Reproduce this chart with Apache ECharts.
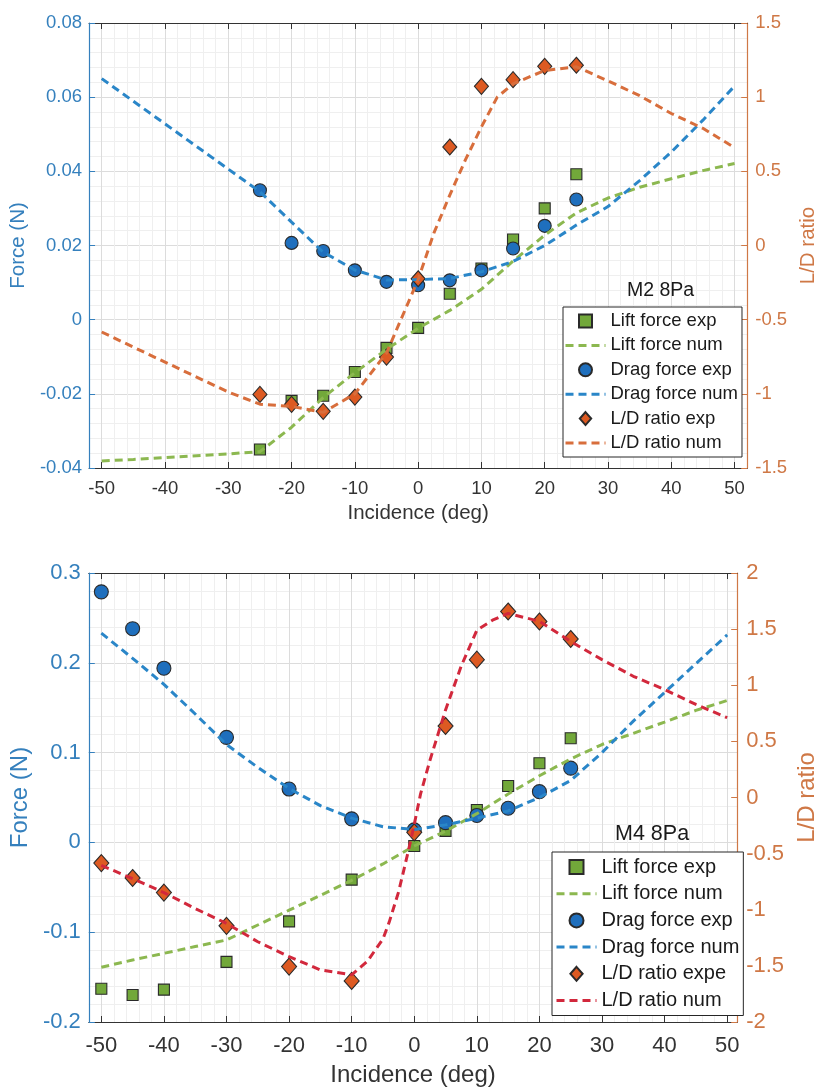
<!DOCTYPE html>
<html>
<head>
<meta charset="utf-8">
<title>Lift, drag and L/D ratio vs incidence</title>
<script src="https://cdn.jsdelivr.net/npm/echarts@6/dist/echarts.min.js"></script>
<style>
  html, body { margin: 0; padding: 0; background: #ffffff; }
  #chartM2 { position: absolute; left: 0; top: 0; width: 827px; height: 540px; }
  #chartM4 { position: absolute; left: 0; top: 540px; width: 827px; height: 552px; }
</style>
</head>
<body>
<div id="chartM2"></div>
<div id="chartM4"></div>
<script>
// ---------- data ----------
const incidenceTicks = [-50, -40, -30, -20, -10, 0, 10, 20, 30, 40, 50];

// M2, 8 Pa
const m2ExpAngle = [-25, -20, -15, -10, -5, 0, 5, 10, 15, 20, 25];
const m2LiftExp  = [-0.0350, -0.0219, -0.0205, -0.0141, -0.0076, -0.0022, 0.0070, 0.0138, 0.0216, 0.0300, 0.0392];
const m2DragExp  = [0.0349, 0.0207, 0.0185, 0.0133, 0.0102, 0.0093, 0.0106, 0.0133, 0.0192, 0.0253, 0.0324];
const m2RatioExp = [-1.004, -1.071, -1.118, -1.022, -0.752, -0.224, 0.664, 1.073, 1.118, 1.208, 1.215];

const m2NumAngle = [-50, -45, -40, -35, -30, -25, -20, -15, -10, -5, 0, 5, 10, 15, 20, 25, 30, 35, 40, 45, 50];
const m2LiftNum  = [-0.0381, -0.0377, -0.0372, -0.0367, -0.0362, -0.0356, -0.0290, -0.0210, -0.0143, -0.0080, -0.0023,
                    0.0025, 0.0082, 0.0158, 0.0228, 0.0288, 0.0328, 0.0357, 0.0380, 0.0402, 0.0421];
const m2DragNum  = [0.0650, 0.0589, 0.0528, 0.0467, 0.0406, 0.0345, 0.0263, 0.0182, 0.0134, 0.0107, 0.0108,
                    0.0111, 0.0129, 0.0157, 0.0200, 0.0255, 0.0305, 0.0375, 0.0452, 0.0538, 0.0630];
const m2RatioAngle = [-50, -45, -40, -35, -30, -25, -20, -15, -10, -5, 0, 2.5, 5, 7.5, 10, 12.5, 15, 20, 25, 30, 35, 40, 45, 50];
const m2RatioNum   = [-0.583, -0.685, -0.786, -0.887, -0.988, -1.070, -1.085, -1.125, -1.000, -0.725, -0.230, 0.085,
                      0.340, 0.580, 0.800, 1.000, 1.090, 1.180, 1.205, 1.110, 1.010, 0.890, 0.790, 0.660];

// M4, 8 Pa
const m4ExpAngle = [-50, -45, -40, -30, -20, -10, 0, 5, 10, 15, 20, 25];
const m4LiftExp  = [-0.163, -0.170, -0.164, -0.133, -0.088, -0.0415, -0.004, 0.0128, 0.036, 0.0628, 0.0882, 0.116];
const m4DragExp  = [0.279, 0.238, 0.194, 0.117, 0.0594, 0.0262, 0.014, 0.022, 0.030, 0.038, 0.0565, 0.0827];
const m4RatioExp = [-0.584, -0.717, -0.847, -1.143, -1.506, -1.634, -0.310, 0.637, 1.228, 1.657, 1.568, 1.412];

const m4NumAngle = [-50, -45, -40, -35, -30, -25, -20, -15, -10, -5, 0, 5, 10, 15, 20, 25, 30, 35, 40, 45, 50];
const m4LiftNum  = [-0.139, -0.131, -0.1235, -0.116, -0.1087, -0.092, -0.0755, -0.059, -0.0422, -0.024, -0.004,
                    0.0125, 0.032, 0.0539, 0.0742, 0.093, 0.109, 0.1215, 0.134, 0.147, 0.158];
const m4DragNum  = [0.233, 0.205, 0.176, 0.143, 0.109, 0.0835, 0.060, 0.041, 0.027, 0.0175, 0.0143,
                    0.0195, 0.027, 0.035, 0.050, 0.069, 0.100, 0.135, 0.167, 0.199, 0.231];
const m4RatioAngle = [-50, -45, -40, -35, -30, -25, -20, -15, -10, -7.5, -5, -4, -2.5, -1, 0, 1, 2.5, 5, 7.5, 10,
                      12.5, 15, 20, 25, 30, 35, 40, 45, 50];
const m4RatioNum   = [-0.605, -0.723, -0.847, -0.989, -1.122, -1.285, -1.418, -1.536, -1.580, -1.460, -1.260, -1.110,
                      -0.840, -0.490, -0.240, 0.030, 0.330, 0.780, 1.170, 1.490, 1.580, 1.640, 1.570, 1.390, 1.228,
                      1.080, 0.962, 0.829, 0.711];

// ---------- styling ----------
const FONT = "'Liberation Sans', Arial, Helvetica, sans-serif";
const LEFT_COLOR = '#3580bd';
const RIGHT_COLOR = '#cf7846';
const AXIS_DARK = '#333333';
const TEXT_DARK = '#1a1a1a';
const GRID_MAJOR = '#dcdcdc';
const GRID_MINOR = '#efefef';
const EDGE = '#2a2a2a';

const C_LIFT_EXP = '#72a83a';
const C_DRAG_EXP = '#1f6fbd';
const C_RATIO_EXP = '#dd5a22';
const C_LIFT_NUM = '#8cb850';
const C_DRAG_NUM = '#2a86c8';
const DASH = [8, 5];

// legend glyphs
const SQUARE_ICON = 'path://M0,0H10V10H0Z';
const DIAMOND_ICON = 'path://M7,0L14,8L7,16L0,8Z';
const NO_MARKER = { color: 'rgba(0,0,0,0)', borderColor: 'rgba(0,0,0,0)', borderWidth: 0, opacity: 0 };

function pairs(xs, ys) { return xs.map((x, i) => [x, ys[i]]); }

function scatter(name, xs, ys, yAxisIndex, symbol, size, color) {
  return {
    name, type: 'scatter', xAxisIndex: 1, yAxisIndex, data: pairs(xs, ys),
    symbol, symbolSize: size,
    itemStyle: { color, borderColor: EDGE, borderWidth: 1.1, opacity: 1 },
    emphasis: { disabled: true }, silent: true
  };
}

function dashed(name, xs, ys, yAxisIndex, color) {
  return {
    name, type: 'line', xAxisIndex: 1, yAxisIndex, data: pairs(xs, ys),
    symbol: 'none', showSymbol: false, smooth: false,
    lineStyle: { color, width: 3, type: DASH },
    itemStyle: { color },
    emphasis: { disabled: true }, silent: true
  };
}

function legendEntries(names) {
  // order: lift exp, lift num, drag exp, drag num, ratio exp, ratio num
  return [
    { name: names[0], icon: SQUARE_ICON },
    { name: names[1], itemStyle: NO_MARKER },
    { name: names[2], icon: 'circle' },
    { name: names[3], itemStyle: NO_MARKER },
    { name: names[4], icon: DIAMOND_ICON },
    { name: names[5], itemStyle: NO_MARKER }
  ];
}

function buildOption(p) {
  const tickLabel = (color) => ({ fontFamily: FONT, fontSize: p.tickFont, color });
  return {
    animation: false,
    backgroundColor: '#ffffff',
    title: {
      text: p.title, left: p.titleLeft, top: p.titleTop, padding: 0,
      textStyle: { fontFamily: FONT, fontSize: p.titleFont, fontWeight: 'normal', color: TEXT_DARK }
    },
    grid: { left: p.grid.left, top: p.grid.top, width: p.grid.width, height: p.grid.height, containLabel: false },
    legend: {
      orient: 'vertical', left: p.legendLeft, top: p.legendTop,
      padding: p.legendPadding, itemWidth: 40, itemHeight: p.legendIcon, itemGap: p.legendGap,
      backgroundColor: '#ffffff', borderColor: '#262626', borderWidth: 1, borderRadius: 0,
      textStyle: { fontFamily: FONT, fontSize: p.legendFont, lineHeight: p.legendLine, color: TEXT_DARK },
      lineStyle: { width: 3 },
      selectedMode: false,
      data: legendEntries(p.legendNames)
    },
    xAxis: [
      { // fine grid every 2 deg, darker every 10 deg
        type: 'value', position: 'bottom', min: -52, max: p.xMax, interval: 2,
        axisLine: { show: false }, axisTick: { show: false }, axisLabel: { show: false },
        splitLine: { show: true, lineStyle: { width: 1, color: [GRID_MINOR, GRID_MAJOR, GRID_MINOR, GRID_MINOR, GRID_MINOR] } }
      },
      { // incidence axis
        type: 'value', position: 'bottom', min: -52, max: p.xMax,
        axisLine: { show: true, onZero: false, lineStyle: { color: AXIS_DARK, width: 1.2 } },
        axisTick: { show: true, inside: true, length: 6, customValues: incidenceTicks, lineStyle: { color: AXIS_DARK } },
        axisLabel: Object.assign({ customValues: incidenceTicks, margin: p.xLabelMargin }, tickLabel(AXIS_DARK)),
        splitLine: { show: false },
        name: 'Incidence (deg)', nameLocation: 'middle', nameGap: p.xNameGap,
        nameTextStyle: { fontFamily: FONT, fontSize: p.nameFont, color: AXIS_DARK }
      },
      { // top frame
        type: 'value', position: 'top', min: -52, max: p.xMax,
        axisLine: { show: true, onZero: false, lineStyle: { color: AXIS_DARK, width: 1.2 } },
        axisTick: { show: true, inside: true, length: 6, customValues: incidenceTicks, lineStyle: { color: AXIS_DARK } },
        axisLabel: { show: false }, splitLine: { show: false }
      }
    ],
    yAxis: [
      { // force
        type: 'value', position: 'left', min: p.yMin, max: p.yMax, interval: p.yStep,
        axisLine: { show: true, onZero: false, lineStyle: { color: LEFT_COLOR, width: 1.2 } },
        axisTick: { show: true, inside: true, length: 6, lineStyle: { color: LEFT_COLOR } },
        axisLabel: Object.assign({ margin: p.yLabelMargin }, tickLabel(LEFT_COLOR)),
        splitLine: { show: false },
        name: 'Force (N)', nameLocation: 'middle', nameRotate: 90, nameGap: p.leftNameGap,
        nameTextStyle: { fontFamily: FONT, fontSize: p.nameFont, color: LEFT_COLOR }
      },
      { // L/D ratio
        type: 'value', position: 'right', min: p.rMin, max: p.rMax, interval: 0.5,
        axisLine: { show: true, onZero: false, lineStyle: { color: RIGHT_COLOR, width: 1.2 } },
        axisTick: { show: true, inside: true, length: 6, lineStyle: { color: RIGHT_COLOR } },
        axisLabel: Object.assign({ margin: p.rLabelMargin }, tickLabel(RIGHT_COLOR)),
        splitLine: { show: false },
        name: 'L/D ratio', nameLocation: 'middle', nameRotate: 90, nameGap: p.rightNameGap,
        nameTextStyle: { fontFamily: FONT, fontSize: p.nameFont, color: RIGHT_COLOR }
      },
      { // fine horizontal grid
        type: 'value', position: 'left', min: p.yMin, max: p.yMax, interval: p.yStep / 5,
        axisLine: { show: false }, axisTick: { show: false }, axisLabel: { show: false },
        splitLine: { show: true, lineStyle: { width: 1, color: [GRID_MAJOR, GRID_MINOR, GRID_MINOR, GRID_MINOR, GRID_MINOR] } }
      }
    ],
    series: p.series
  };
}

// ---------- M2 8Pa ----------
const optM2 = buildOption({
  title: 'M2 8Pa', titleLeft: 627, titleTop: 281, titleFont: 19.5,
  grid: { left: 88, top: 23, width: 664, height: 445 },
  xMax: 52, yMin: -0.04, yMax: 0.08, yStep: 0.02, rMin: -1.5, rMax: 1.5,
  tickFont: 18.5, nameFont: 20.5,
  xLabelMargin: 11, yLabelMargin: 7, rLabelMargin: 8,
  xNameGap: 34, leftNameGap: 56, rightNameGap: 40,
  legendLeft: 563, legendTop: 307, legendPadding: [4, 4, 4, 1],
  legendIcon: 13, legendGap: 4.4, legendFont: 18.5, legendLine: 20,
  legendNames: ['Lift force exp', 'Lift force num', 'Drag force exp', 'Drag force num', 'L/D ratio exp', 'L/D ratio num'],
  series: [
    scatter('Lift force exp', m2ExpAngle, m2LiftExp, 0, 'rect', 11, C_LIFT_EXP),
    dashed('Lift force num', m2NumAngle, m2LiftNum, 0, C_LIFT_NUM),
    scatter('Drag force exp', m2ExpAngle, m2DragExp, 0, 'circle', 13, C_DRAG_EXP),
    dashed('Drag force num', m2NumAngle, m2DragNum, 0, C_DRAG_NUM),
    scatter('L/D ratio exp', m2ExpAngle, m2RatioExp, 1, 'diamond', [14, 16], C_RATIO_EXP),
    dashed('L/D ratio num', m2RatioAngle, m2RatioNum, 1, '#d86e3c')
  ]
});

// ---------- M4 8Pa ----------
const optM4 = buildOption({
  title: 'M4 8Pa', titleLeft: 615, titleTop: 283, titleFont: 21.5,
  grid: { left: 82, top: 33, width: 671, height: 451 },
  xMax: 51.6, yMin: -0.2, yMax: 0.3, yStep: 0.1, rMin: -2, rMax: 2,
  tickFont: 22, nameFont: 24,
  xLabelMargin: 13, yLabelMargin: 8, rLabelMargin: 9,
  xNameGap: 41, leftNameGap: 51, rightNameGap: 53,
  legendLeft: 552, legendTop: 312, legendPadding: [4, 4, 4, 3],
  legendIcon: 14, legendGap: 4.7, legendFont: 20, legendLine: 22,
  legendNames: ['Lift force exp', 'Lift force num', 'Drag force exp', 'Drag force num', 'L/D ratio expe', 'L/D ratio num'],
  series: [
    scatter('Lift force exp', m4ExpAngle, m4LiftExp, 0, 'rect', 11, C_LIFT_EXP),
    dashed('Lift force num', m4NumAngle, m4LiftNum, 0, C_LIFT_NUM),
    scatter('Drag force exp', m4ExpAngle, m4DragExp, 0, 'circle', 14, C_DRAG_EXP),
    dashed('Drag force num', m4NumAngle, m4DragNum, 0, C_DRAG_NUM),
    scatter('L/D ratio expe', m4ExpAngle, m4RatioExp, 1, 'diamond', [15, 17], C_RATIO_EXP),
    dashed('L/D ratio num', m4RatioAngle, m4RatioNum, 1, '#d2283c')
  ]
});

echarts.init(document.getElementById('chartM2'), null, { renderer: 'canvas' }).setOption(optM2);
echarts.init(document.getElementById('chartM4'), null, { renderer: 'canvas' }).setOption(optM4);
</script>
</body>
</html>
